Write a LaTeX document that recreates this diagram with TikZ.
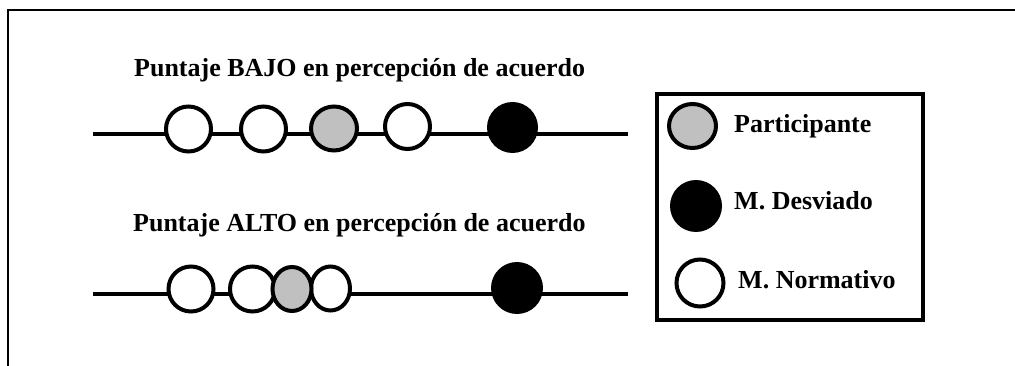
\documentclass[tikz,border=0pt]{standalone}
\usepackage{fontspec}
\setmainfont{Liberation Serif}
\usetikzlibrary{shapes.geometric}
\definecolor{partgray}{RGB}{192,192,192}
\begin{document}
\begin{tikzpicture}[x=1pt,y=-1pt,
  axisline/.style={line width=4pt},
  normdot/.style={circle,draw=black,fill=white,line width=4pt,inner sep=0pt,minimum size=45pt},
  partdot/.style={ellipse,draw=black,fill=partgray,line width=4pt,inner sep=0pt,minimum width=#1,minimum height=44pt},
  partdot/.default=46pt,
  normell/.style={ellipse,draw=black,fill=white,line width=4pt,inner sep=0pt,minimum width=39pt,minimum height=44pt},
  devdot/.style={circle,fill=black,inner sep=0pt,minimum size=51pt},
  title/.style={anchor=base west,inner sep=0pt,font=\fontsize{26}{30}\selectfont\bfseries},
  legtext/.style={anchor=base west,inner sep=0pt,font=\fontsize{26}{30}\selectfont\bfseries},
  frameline/.style={line width=1.5pt}]
\useasboundingbox (0,0) rectangle (1015,366);
% outer frame
\coordinate (fTR) at (1015,10);
\coordinate (fTL) at (8,10);
\coordinate (fBL) at (8,366);
\draw[frameline] (fTR) -- (fTL) -- (fBL);
% titles
\node[title] (t1) at (134,77) {Puntaje BAJO en percepción de acuerdo};
\node[title] (t2) at (133,232) {Puntaje ALTO en percepción de acuerdo};
% top row
\coordinate (a1) at (93,134.5);
\coordinate (a2) at (628,134.5);
\draw[axisline] (a1) -- (a2);
\node[normdot] (n1) at (188.5,129) {};
\node[normdot] (n2) at (263.5,129) {};
\node[partdot] (p1) at (334,128.5) {};
\node[normdot] (n3) at (407.5,126.5) {};
\node[devdot] (d1) at (512.5,127.5) {};
% bottom row
\coordinate (b1) at (93,293.5);
\coordinate (b2) at (628,293.5);
\draw[axisline] (b1) -- (b2);
\node[normdot] (m1) at (191,289) {};
\node[normdot] (m2) at (252.5,289) {};
\node[normell] (m3) at (330.5,288.5) {};
\node[partdot=39pt] (p2) at (292,289) {};
\node[devdot,minimum width=52pt,minimum height=50pt] (d2) at (517,288) {};
% legend
\node[draw=black,line width=4pt,minimum width=266pt,minimum height=226pt,inner sep=0pt] (leg) at (790,207) {};
\node[partdot=47pt] (lp) at (692.5,126) {};
\node[legtext] (lpt) at (734,133) {Participante};
\node[devdot,minimum size=52pt] (ld) at (696,206) {};
\node[legtext] (ldt) at (734,210) {M. Desviado};
\node[normdot,minimum width=47pt,minimum height=45pt] (ln) at (700,283) {};
\node[legtext] (lnt) at (738,288) {M. Normativo};
\end{tikzpicture}
\end{document}
